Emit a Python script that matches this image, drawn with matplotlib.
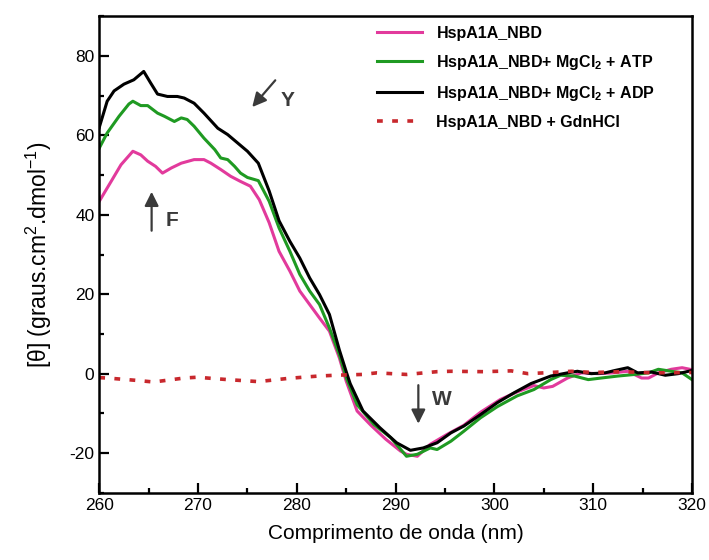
import numpy as np
import matplotlib
matplotlib.use("Agg")
import matplotlib.pyplot as plt

plt.rcParams['font.family'] = ['Liberation Sans', 'DejaVu Sans']
plt.rcParams['mathtext.fontset'] = 'custom'
plt.rcParams['mathtext.rm'] = 'Liberation Sans'
plt.rcParams['mathtext.bf'] = 'Liberation Sans:bold'
plt.rcParams['mathtext.default'] = 'regular'
plt.rcParams['axes.unicode_minus'] = False

# HspA1A_NBD
x_nbd = [260, 261.2, 262.2, 263.4, 264.2, 264.9, 265.7, 266.4, 267.3, 268.3, 269.6, 270.6,
         271.3, 272.3, 273.3, 274.3, 275.3, 276.2, 277.2, 278.2, 279.3, 280.3, 281.3, 282.3,
         283.3, 284.3, 285.0, 286.1, 287.5, 289.0, 290.5, 291.1, 292.2, 293.5, 295.2, 296.9,
         298.6, 300.6, 302.3, 304.0, 305.0, 305.9, 307.4, 308.8, 310.5, 312.0, 313.5, 314.9,
         315.6, 316.6, 317.9, 319.0, 320]
y_nbd = [43.4, 48.4, 52.6, 56.0, 55.1, 53.5, 52.2, 50.5, 51.8, 53.0, 53.9, 53.9,
         53.0, 51.4, 49.7, 48.4, 47.2, 43.8, 38.0, 30.8, 25.8, 20.8, 17.4, 14.0,
         10.7, 4.0, -1.9, -9.4, -13.0, -16.5, -19.5, -20.3, -20.8, -17.8, -15.3, -13.0,
         -9.7, -6.5, -4.6, -3.0, -3.6, -3.2, -1.1, 0.2, 0.0, 0.2, 0.6, -1.1,
         -1.1, 0.2, 1.1, 1.5, 1.0]

# HspA1A_NBD + MgCl2 + ATP
x_atp = [260, 260.8, 262.0, 263.0, 263.4, 264.2, 264.9, 265.9, 266.6, 267.6, 268.3, 268.9,
         269.6, 270.6, 271.7, 272.3, 273.0, 273.7, 274.3, 275.0, 276.1, 277.2, 278.2, 279.3,
         280.3, 281.3, 282.3, 283.3, 284.3, 285.0, 286.1, 287.8, 289.5, 291.1, 292.2, 293.5,
         294.2, 295.6, 296.9, 298.6, 300.3, 302.3, 304.0, 305.7, 306.7, 308.1, 309.5, 310.8,
         312.5, 314.2, 315.6, 316.6, 317.9, 319.0, 320]
y_atp = [56.8, 60.6, 64.8, 67.9, 68.6, 67.5, 67.5, 65.6, 64.8, 63.5, 64.4, 64.0,
         62.3, 59.3, 56.4, 54.3, 53.9, 52.2, 50.5, 49.4, 48.6, 43.4, 36.7, 30.8,
         25.0, 20.8, 17.4, 11.5, 4.8, -1.0, -7.8, -12.8, -16.1, -20.8, -20.3, -18.7,
         -19.1, -17.0, -14.5, -11.1, -8.3, -5.6, -4.0, -1.5, -0.4, -0.6, -1.5, -1.1,
         -0.6, -0.2, 0.2, 1.1, 0.6, 0.2, -1.5]

# HspA1A_NBD + MgCl2 + ADP
x_adp = [260, 260.8, 261.5, 262.5, 263.5, 264.5, 265.2, 265.9, 266.9, 267.9, 268.6, 269.6,
         270.6, 272.0, 273.0, 274.0, 275.0, 276.1, 277.2, 278.2, 279.3, 280.3, 281.3, 282.3,
         283.3, 284.3, 285.0, 285.4, 286.7, 288.4, 290.1, 291.5, 292.8, 294.2, 295.6, 296.9,
         298.6, 300.3, 302.0, 303.7, 305.7, 307.4, 308.4, 309.8, 311.2, 312.2, 313.5, 314.5,
         315.9, 317.3, 318.6, 320]
y_adp = [62.0, 68.6, 71.2, 72.9, 74.0, 76.1, 73.2, 70.4, 69.8, 69.8, 69.4, 68.1,
         65.6, 61.8, 60.2, 58.1, 56.0, 53.0, 46.0, 38.5, 33.3, 29.1, 24.1, 19.9,
         14.9, 6.0, 0.5, -2.5, -9.4, -13.6, -17.4, -19.3, -18.7, -17.4, -14.9, -13.2,
         -10.3, -7.3, -4.8, -2.5, -0.6, 0.2, 0.6, 0.0, 0.2, 0.8, 1.5, 0.2,
         0.4, -0.4, 0.0, 0.8]

# HspA1A_NBD + GdnHCl
x_gdn = [260, 260.8, 263.8, 265.5, 268.6, 269.9, 273.0, 276.1, 279.1, 280.6, 282.2, 283.9,
         286.6, 288.1, 291.1, 294.2, 295.6, 298.9, 301.7, 303.4, 305.0, 307.8, 310.0, 313.0,
         316.0, 320]
y_gdn = [-1.0, -1.1, -1.7, -2.1, -1.1, -0.9, -1.5, -2.0, -1.2, -0.9, -0.6, -0.4,
         -0.2, 0.2, -0.2, 0.5, 0.6, 0.5, 0.7, 0.0, 0.2, 0.6, 0.3, 0.5,
         0.2, 0.3]

fig = plt.figure(figsize=(7.09, 5.6), dpi=100)
ax = fig.add_axes([0.14, 0.12, 0.836, 0.851])

ax.plot(x_nbd, y_nbd, c='#e23a9c', lw=2.2, label='HspA1A_NBD')
ax.plot(x_atp, y_atp, c='#1f9a22', lw=2.2, label=r'HspA1A_NBD+ MgCl$_\mathbf{2}$ + ATP')
ax.plot(x_adp, y_adp, c='black', lw=2.2, label=r'HspA1A_NBD+ MgCl$_\mathbf{2}$ + ADP')
ax.plot(x_gdn, y_gdn, c='#c8282d', lw=2.6, ls=(0, (1.6, 2.6)), label='HspA1A_NBD + GdnHCl')

ax.set_xlim(260, 320)
ax.set_ylim(-30, 90)
ax.set_xticks(np.arange(260, 321, 10))
ax.set_xticks(np.arange(265, 320, 10), minor=True)
ax.set_yticks(np.arange(-20, 81, 20))
ax.set_yticks(np.arange(-30, 91, 20), minor=True)
ax.tick_params(which='both', direction='in', width=1.6, labelsize=12.5, top=False, right=False)
ax.tick_params(which='major', length=7)
ax.tick_params(which='minor', length=3.5)
for s in ax.spines.values():
    s.set_linewidth(1.8)

ax.set_xlabel('Comprimento de onda (nm)', fontsize=15, labelpad=8)
ax.set_ylabel(r'[θ] (graus.cm$^2$.dmol$^{-1}$)', fontsize=16.5, labelpad=11)

leg = ax.legend(loc='upper left', bbox_to_anchor=(0.445, 1.01), frameon=False,
                prop={'weight': 'bold', 'size': 11.5}, handlelength=2.8,
                handletextpad=0.9, labelspacing=0.75)

arrow = dict(arrowstyle='-|>,head_length=0.6,head_width=0.3', color='#3a3a3a', lw=1.6,
             mutation_scale=14)
ax.annotate('', xy=(275.3, 66.6), xytext=(278.0, 74.4), arrowprops=arrow)
ax.text(278.4, 68.8, 'Y', fontsize=15, fontweight='bold', color='#3a3a3a', va='center')
ax.annotate('', xy=(265.3, 46.5), xytext=(265.3, 35.3), arrowprops=arrow)
ax.text(266.7, 38.6, 'F', fontsize=15, fontweight='bold', color='#3a3a3a', va='center')
ax.annotate('', xy=(292.3, -13.3), xytext=(292.3, -2.2), arrowprops=arrow)
ax.text(293.7, -6.4, 'W', fontsize=15, fontweight='bold', color='#3a3a3a', va='center')

fig.savefig('out.png', dpi=100)
